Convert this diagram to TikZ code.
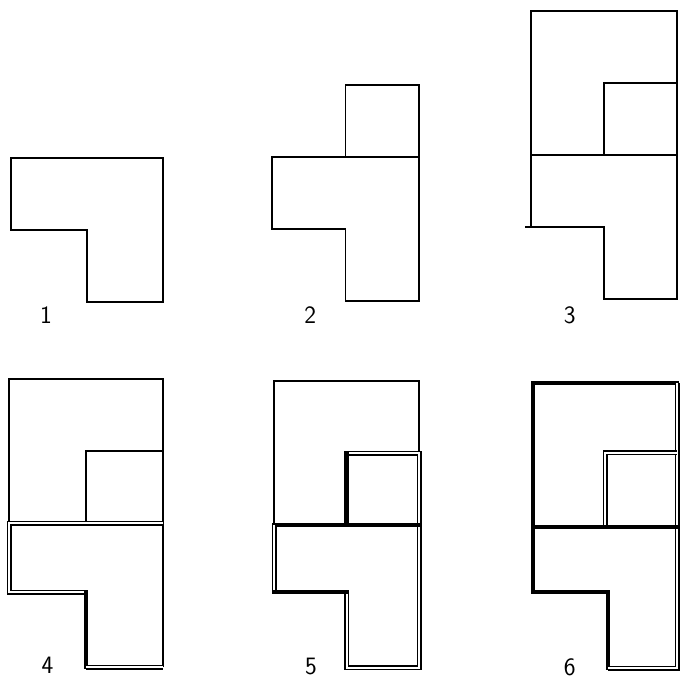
\documentclass[tikz,border=0pt]{standalone}
\usepackage{tikz}

\tikzset{
  wall/.style={line width=1.8pt, line join=miter},
  heavywall/.style={line width=4.4pt, line join=miter, line cap=rect},
  twinwall/.style={double, double distance=2pt, line width=1.5pt},
  stage/.style={font=\fontsize{25}{28}\selectfont\sffamily},
}

\begin{document}
\begin{tikzpicture}
  \useasboundingbox (0pt, 0pt) rectangle (681pt, -680pt);

  % 1: the L alone
  \begin{scope}[shift={(11pt, -158pt)}, x=76pt, y=72pt]
    \draw[wall] (0, 0) -- (2, 0) -- (2, -2) -- (1, -2) -- (1, -1) --
      (0, -1) -- cycle;
    \node[stage] (lab1) at (0.46, -2.18) {1};
  \end{scope}

  % 2: small room added on top
  \begin{scope}[shift={(272pt, -157pt)}, x=73.5pt, y=72pt]
    \draw[wall] (0, 0) -- (2, 0) -- (2, -2) -- (1, -2) -- (1, -1) --
      (0, -1) -- cycle;
    \draw[wall] (1, 0) -- (1, 1) -- (2, 1) -- (2, 0);
    \node[stage] (lab2) at (0.52, -2.2) {2};
  \end{scope}

  % 3: closed upper half
  \begin{scope}[shift={(531pt, -155pt)}, x=73pt, y=72pt]
    \draw[wall] (0, 0) -- (2, 0) -- (2, -2) -- (1, -2) -- (1, -1) --
      (-0.08, -1);
    \draw[wall] (0, -1) -- (0, 2) -- (2, 2) -- (2, 0);
    \draw[wall] (1, 0) -- (1, 1) -- (2, 1);
    \node[stage] (lab3) at (0.53, -2.22) {3};
  \end{scope}

  % 4
  \begin{scope}[shift={(9pt, -523pt)}, x=77pt, y=72pt]
    \draw[wall] (0, 0) -- (0, 2) -- (2, 2) -- (2, -2);
    \draw[wall] (1, 0) -- (1, 1) -- (2, 1);
    \draw[twinwall] (2, 0) -- (0, 0) -- (0, -0.96) -- (1, -0.96);
    \draw[heavywall] (1, -0.96) -- (1, -2);
    \draw[twinwall] (1, -2) -- (2, -2);
    \node[stage] (lab4) at (0.5, -1.98) {4};
  \end{scope}

  % 5
  \begin{scope}[shift={(274pt, -525pt)}, x=72.5pt, y=72pt]
    \draw[wall] (2, 1) -- (2, 2) -- (0, 2) -- (0, 0);
    \draw[twinwall] (1, 1) -- (2, 1) -- (2, -1.98) -- (1, -1.98) -- (1, -0.93);
    \draw[heavywall] (1, 1) -- (1, 0);
    \draw[heavywall] (0, 0) -- (2, 0);
    \draw[twinwall] (0, 0) -- (0, -0.93);
    \draw[heavywall] (0, -0.93) -- (1, -0.93);
    \node[stage] (lab5) at (0.51, -1.96) {5};
  \end{scope}

  % 6
  \begin{scope}[shift={(533pt, -527pt)}, x=72pt, y=72pt]
    \draw[heavywall] (2, 2) -- (0, 2) -- (0, -0.9) -- (1.04, -0.9) -- (1.04, -1.96);
    \draw[twinwall] (2, 2) -- (2, -1.96) -- (1.04, -1.96);
    \draw[twinwall] (1, 0) -- (1, 1.03) -- (2, 1.03);
    \draw[heavywall] (0, 0) -- (2, 0);
    \node[stage] (lab6) at (0.51, -1.95) {6};
  \end{scope}
\end{tikzpicture}
\end{document}
